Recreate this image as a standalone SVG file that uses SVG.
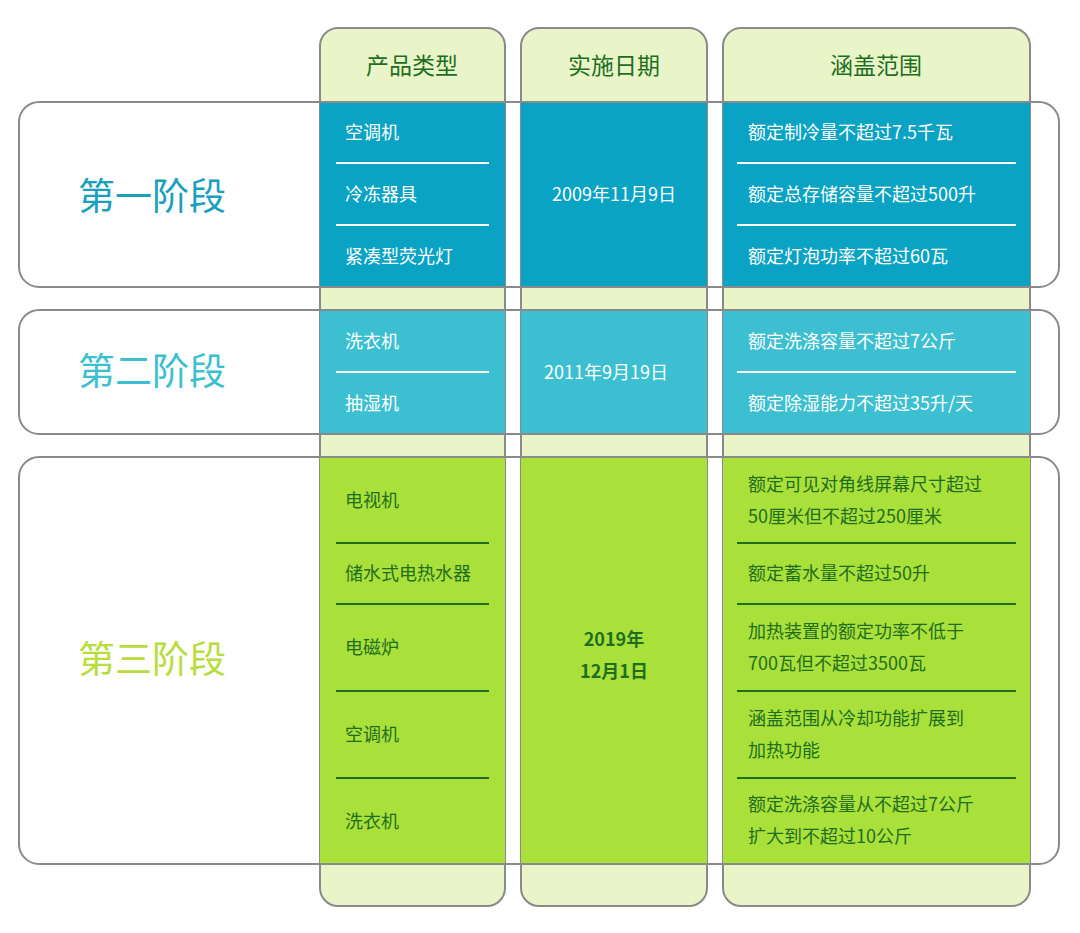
<svg xmlns="http://www.w3.org/2000/svg" width="1080" height="933" viewBox="0 0 1080 933">
<style>
.col{fill:#e9f5c9;stroke:#8a8a8a;stroke-width:2}
.box{fill:none;stroke:#8a8a8a;stroke-width:2}
.hd{font-family:"Noto Sans CJK SC",sans-serif;font-size:23px;fill:#1f6e1f;text-anchor:middle}
.st{font-family:"Noto Sans CJK SC",sans-serif;font-size:37px;text-anchor:middle}
.w{font-family:"Noto Sans CJK SC",sans-serif;font-size:18px;fill:#fff}
.g{font-family:"Noto Sans CJK SC",sans-serif;font-size:18px;fill:#1f6e1f}
.lw{stroke:#fff;stroke-width:2}
.lg{stroke:#1f6e1f;stroke-width:2}
</style>
<rect width="1080" height="933" fill="#fff"/>
<g id="columns">
<rect class="col" x="320" y="28" width="185" height="878" rx="18"/>
<rect class="col" x="521" y="28" width="186" height="878" rx="18"/>
<rect class="col" x="723" y="28" width="307" height="878" rx="18"/>
<text class="hd" x="412" y="74">产品类型</text>
<text class="hd" x="614" y="74">实施日期</text>
<text class="hd" x="876" y="74">涵盖范围</text>
</g>
<g id="stage1">
<rect x="320" y="102" width="185" height="185" fill="#0aa3c4"/>
<rect x="521" y="102" width="186" height="185" fill="#0aa3c4"/>
<rect x="723" y="102" width="307" height="185" fill="#0aa3c4"/>
<rect class="box" x="19" y="102" width="1040" height="185" rx="20"/>
<text class="st" x="152" y="210" fill="#1aa0bf">第一阶段</text>
<line class="lw" x1="336" y1="163" x2="489" y2="163"/><line class="lw" x1="336" y1="225" x2="489" y2="225"/>
<line class="lw" x1="737" y1="163" x2="1016" y2="163"/><line class="lw" x1="737" y1="225" x2="1016" y2="225"/>
<text class="w" x="345" y="139">空调机</text>
<text class="w" x="345" y="201">冷冻器具</text>
<text class="w" x="345" y="263">紧凑型荧光灯</text>
<text class="w" x="614" y="201" text-anchor="middle">2009年11月9日</text>
<text class="w" x="748" y="139">额定制冷量不超过7.5千瓦</text>
<text class="w" x="748" y="201">额定总存储容量不超过500升</text>
<text class="w" x="748" y="263">额定灯泡功率不超过60瓦</text>
</g>
<g id="stage2">
<rect x="320" y="310" width="185" height="124" fill="#3cbfd0"/>
<rect x="521" y="310" width="186" height="124" fill="#3cbfd0"/>
<rect x="723" y="310" width="307" height="124" fill="#3cbfd0"/>
<rect class="box" x="19" y="310" width="1040" height="124" rx="20"/>
<text class="st" x="152" y="385" fill="#3cbfd0">第二阶段</text>
<line class="lw" x1="336" y1="372" x2="489" y2="372"/>
<line class="lw" x1="737" y1="372" x2="1016" y2="372"/>
<text class="w" x="345" y="348">洗衣机</text>
<text class="w" x="345" y="410">抽湿机</text>
<text class="w" x="606" y="379" text-anchor="middle">2011年9月19日</text>
<text class="w" x="748" y="348">额定洗涤容量不超过7公斤</text>
<text class="w" x="748" y="410">额定除湿能力不超过35升/天</text>
</g>
<g id="stage3">
<rect x="320" y="457" width="185" height="407" fill="#a9e03a"/>
<rect x="521" y="457" width="186" height="407" fill="#a9e03a"/>
<rect x="723" y="457" width="307" height="407" fill="#a9e03a"/>
<rect class="box" x="19" y="457" width="1040" height="407" rx="20"/>
<text class="st" x="152" y="673" fill="#b8dd3e">第三阶段</text>
<line class="lg" x1="336" y1="543" x2="489" y2="543"/><line class="lg" x1="336" y1="604" x2="489" y2="604"/>
<line class="lg" x1="336" y1="691" x2="489" y2="691"/><line class="lg" x1="336" y1="778" x2="489" y2="778"/>
<line class="lg" x1="737" y1="543" x2="1016" y2="543"/><line class="lg" x1="737" y1="604" x2="1016" y2="604"/>
<line class="lg" x1="737" y1="691" x2="1016" y2="691"/><line class="lg" x1="737" y1="778" x2="1016" y2="778"/>
<text class="g" x="345" y="507">电视机</text>
<text class="g" x="345" y="580">储水式电热水器</text>
<text class="g" x="345" y="654">电磁炉</text>
<text class="g" x="345" y="741">空调机</text>
<text class="g" x="345" y="828">洗衣机</text>
<text class="g" x="614" y="646" text-anchor="middle" font-weight="bold" font-size="22">2019年</text>
<text class="g" x="614" y="678" text-anchor="middle" font-weight="bold" font-size="22">12月1日</text>
<text class="g" x="748" y="491">额定可见对角线屏幕尺寸超过</text>
<text class="g" x="748" y="523">50厘米但不超过250厘米</text>
<text class="g" x="748" y="580">额定蓄水量不超过50升</text>
<text class="g" x="748" y="638">加热装置的额定功率不低于</text>
<text class="g" x="748" y="670">700瓦但不超过3500瓦</text>
<text class="g" x="748" y="725">涵盖范围从冷却功能扩展到</text>
<text class="g" x="748" y="757">加热功能</text>
<text class="g" x="748" y="811">额定洗涤容量从不超过7公斤</text>
<text class="g" x="748" y="843">扩大到不超过10公斤</text>
</g>
<g id="connectors"/>
</svg>
